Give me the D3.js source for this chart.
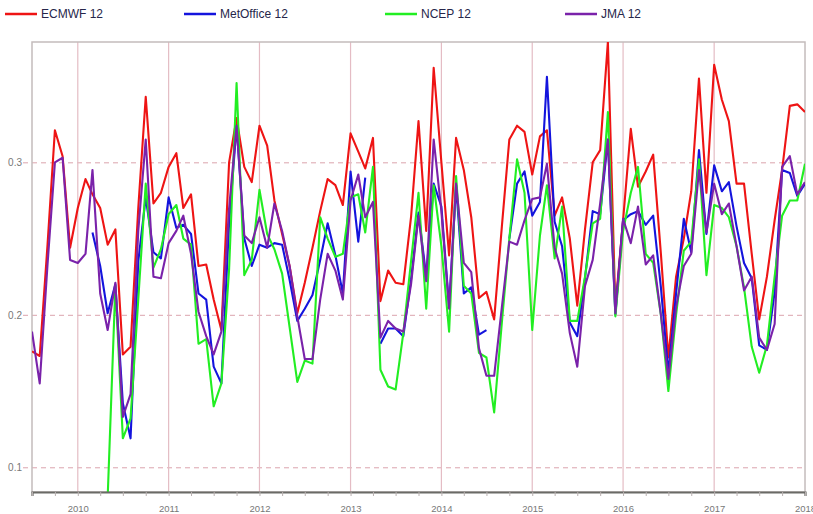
<!DOCTYPE html>
<html><head><meta charset="utf-8">
<script src="https://cdn.jsdelivr.net/npm/d3@7"></script>
<style>html,body{margin:0;padding:0;background:#fff;}svg{display:block;}</style>
</head><body>
<svg id="c" width="813" height="514"></svg>
<script>
const startMonth = "2009-07-01";
const seriesNames = ["ECMWF 12","MetOffice 12","NCEP 12","JMA 12"];
const yTicks = [0.1,0.2,0.3];
const xTickYears = [2010,2011,2012,2013,2014,2015,2016,2017,2018];
const N = null;
const ecmwf = [0.176,0.173,0.245,0.321,0.304,0.244,0.270,0.289,0.279,0.270,0.246,0.256,0.174,0.179,0.270,0.343,0.273,0.280,0.297,0.306,0.270,0.279,0.232,0.233,0.210,0.190,0.300,0.329,0.297,0.287,0.324,0.311,0.275,0.253,0.232,0.201,0.221,0.244,0.268,0.289,0.285,0.272,0.319,0.307,0.296,0.316,0.209,0.229,0.221,0.220,0.264,0.327,0.255,0.362,0.300,0.239,0.316,0.295,0.264,0.211,0.215,0.197,0.258,0.315,0.324,0.320,0.292,0.317,0.321,0.265,0.277,0.250,0.206,0.256,0.300,0.308,0.379,0.205,0.262,0.322,0.284,0.294,0.305,0.240,0.172,0.225,0.250,0.281,0.355,0.280,0.364,0.341,0.327,0.286,0.286,0.240,0.197,0.225,0.262,0.295,0.337,0.338,0.333];
const metoffice = [N,N,N,N,N,N,N,N,0.254,0.232,0.201,0.220,0.142,0.119,0.235,0.277,0.241,0.237,0.277,0.257,0.259,0.253,0.214,0.210,0.166,0.155,0.260,0.324,0.250,0.232,0.246,0.244,0.247,0.246,0.223,0.196,0.204,0.213,0.236,0.260,0.239,0.214,0.294,0.248,0.290,N,0.181,0.191,0.191,0.186,0.223,0.267,0.225,0.286,0.271,0.205,0.285,0.214,0.218,0.187,0.190,N,N,0.250,0.286,0.294,0.265,0.274,0.356,0.261,0.245,0.195,0.186,0.224,0.268,0.266,0.315,0.200,0.262,0.266,0.268,0.259,0.265,0.218,0.162,0.214,0.263,0.241,0.308,0.253,0.298,0.281,0.287,0.258,0.234,0.224,0.180,0.177,0.215,0.295,0.293,0.278,0.286];
const ncep = [N,N,N,N,N,N,N,N,N,N,0.080,0.219,0.119,0.132,0.210,0.286,0.231,0.243,0.266,0.272,0.250,0.246,0.181,0.184,0.140,0.155,0.230,0.352,0.226,0.236,0.282,0.253,0.243,0.227,0.192,0.156,0.170,0.168,0.264,0.250,0.238,0.240,0.277,0.279,0.254,0.297,0.164,0.153,0.151,0.188,0.235,0.280,0.204,0.285,0.245,0.189,0.291,0.219,0.214,0.175,0.172,0.136,0.195,0.250,0.302,0.280,0.190,0.252,0.285,0.237,0.271,0.196,0.196,0.225,0.260,0.263,0.333,0.199,0.255,0.280,0.297,0.240,0.234,0.200,0.150,0.200,0.242,0.248,0.302,0.226,0.272,0.270,0.264,0.245,0.218,0.179,0.162,0.180,0.225,0.265,0.275,0.275,0.299];
const jma = [0.189,0.155,0.232,0.300,0.303,0.236,0.234,0.240,0.295,0.214,0.190,0.221,0.133,0.148,0.255,0.315,0.225,0.224,0.247,0.255,0.265,0.240,0.202,0.186,0.174,0.189,0.270,0.324,0.252,0.247,0.264,0.244,0.273,0.255,0.232,0.199,0.171,0.171,0.210,0.240,0.229,0.210,0.275,0.292,0.264,0.274,0.185,0.196,0.191,0.189,0.220,0.265,0.222,0.315,0.268,0.204,0.286,0.234,0.228,0.178,0.160,0.160,0.205,0.248,0.246,0.262,0.276,0.277,0.299,0.244,0.227,0.188,0.166,0.219,0.236,0.273,0.315,0.201,0.263,0.247,0.271,0.233,0.239,0.200,0.158,0.205,0.232,0.240,0.295,0.254,0.286,0.266,0.273,0.245,0.216,0.225,0.185,0.177,0.194,0.297,0.304,0.279,0.287];
const colors = ["#ee1414","#1414dd","#22ee22","#7a22aa"];

const svg = d3.select("#c");
const L = 32, R = 805, T = 42, B = 492;
const t0 = new Date(2009,6,1);
const months = d3.range(ecmwf.length).map(i => new Date(2009, 6 + i, 1));
const x = d3.scaleTime().domain([t0, new Date(2018,0,1)]).range([L, R]);
const y = d3.scaleLinear().domain([0.0838, 0.3789]).range([B, T]);

svg.append("defs").append("clipPath").attr("id","clip")
  .append("rect").attr("x",L).attr("y",T).attr("width",R-L).attr("height",B-T);

// horizontal dashed grid
const yAxis = d3.axisLeft(y).tickValues(yTicks).tickSize(-(R-L)).tickPadding(2).tickFormat(d3.format(".1f"));
const gy = svg.append("g").attr("transform",`translate(${L},0)`).call(yAxis);
gy.select(".domain").remove();
gy.selectAll(".tick line").attr("x1",-9).attr("stroke","#dba3ad").attr("stroke-dasharray","5,4").attr("stroke-width",1);
gy.selectAll(".tick text").attr("fill","#777").attr("font-family","Liberation Sans, Arial, sans-serif").attr("font-size","10px").attr("x",-10);

// vertical grid at years
const xGridYears = xTickYears.filter(d => d < 2018);
svg.append("g").selectAll("line").data(xGridYears).join("line")
  .attr("x1", d => x(new Date(d,0,1))).attr("x2", d => x(new Date(d,0,1)))
  .attr("y1", T).attr("y2", B).attr("stroke","#e4bcc4").attr("stroke-width",1.2);

// frame
svg.append("rect").attr("x",L).attr("y",T).attr("width",R-L).attr("height",B-T)
  .attr("fill","none").attr("stroke","#c4bcbc").attr("stroke-width",1.5);

// lines
const line = d3.line().defined(d => d.v !== null).x(d => x(d.t)).y(d => y(d.v));
const allSeries = [ecmwf, metoffice, ncep, jma];
const gl = svg.append("g").attr("clip-path","url(#clip)");
allSeries.forEach((s, k) => {
  const data = s.map((v, i) => ({t: months[i], v}));
  gl.append("path").datum(data).attr("d", line).attr("fill","none")
    .attr("stroke", colors[k]).attr("stroke-width", 2.1).attr("stroke-linejoin","round");
});

// bottom axis
const quarters = d3.timeMonth.every(3).range(t0, new Date(2018,0,2));
const xAxis = d3.axisBottom(x).tickValues(quarters).tickSize(4)
  .tickFormat(d => d.getMonth() === 0 ? d.getFullYear() : "");
const gx = svg.append("g").attr("transform",`translate(0,${B})`).call(xAxis);
gx.select(".domain").attr("stroke","#6a6a66").attr("stroke-width",2.2);
gx.selectAll(".tick line").attr("stroke","#b8b0b0");
gx.selectAll(".tick text").attr("fill","#777").attr("font-family","Liberation Sans, Arial, sans-serif")
  .attr("font-size","9.5px").attr("dy","0.9em").attr("y",11);

// legend
const legX = [5, 184, 385, 565];
const lg = svg.append("g").selectAll("g").data(seriesNames).join("g")
  .attr("transform", (d,i) => `translate(${legX[i]},14)`);
lg.append("line").attr("x1",0).attr("x2",32).attr("y1",0).attr("y2",0)
  .attr("stroke",(d,i)=>colors[i]).attr("stroke-width",2.5);
lg.append("text").attr("x",36).attr("y",4).text(d=>d)
  .attr("fill","#26264a").attr("font-family","Liberation Sans, Arial, sans-serif").attr("font-size","12px");
</script>
</body></html>
